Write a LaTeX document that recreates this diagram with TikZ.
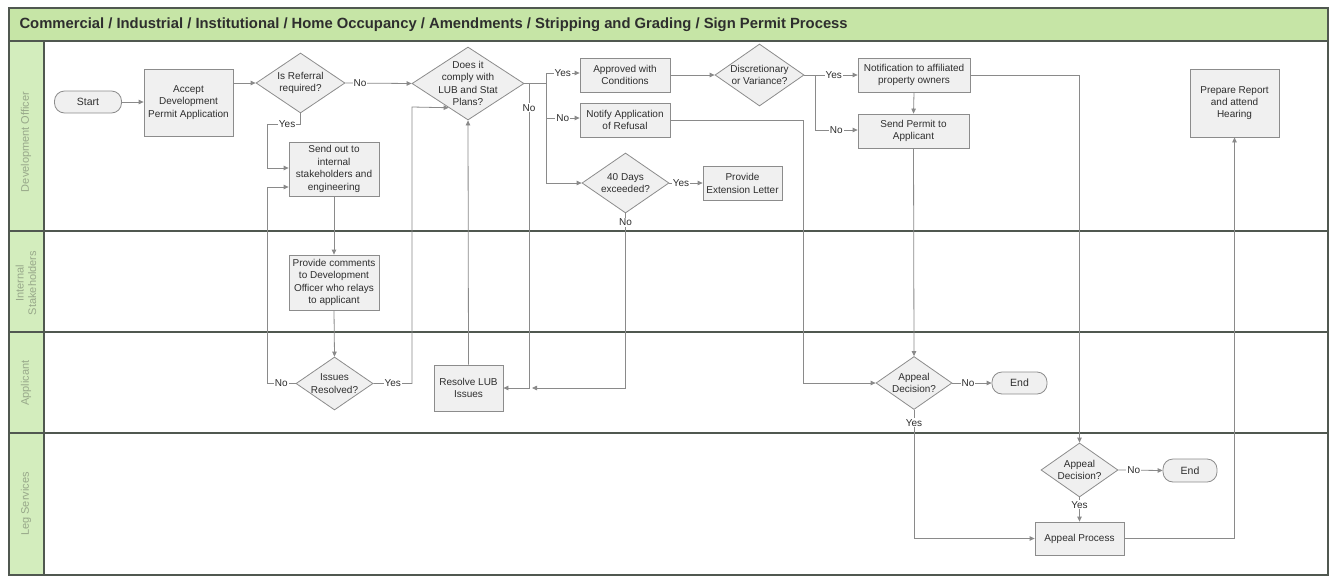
\documentclass[tikz,border=0pt]{standalone}
\usepackage{fontspec}
\setmainfont{Liberation Sans}
\usetikzlibrary{shapes.geometric,arrows.meta,calc}

\definecolor{titlegreen}{HTML}{C6E5A6}
\definecolor{lanegreen}{HTML}{D3EDBD}
\definecolor{framegray}{HTML}{505850}
\definecolor{linegray}{HTML}{8A8A8A}
\definecolor{boxfill}{HTML}{F0F0F0}
\definecolor{boxdraw}{HTML}{8C8C8C}
\definecolor{lanetext}{HTML}{98A88A}
\definecolor{inktext}{HTML}{2E2E2E}

\tikzset{
  stepbox/.style={draw=boxdraw, fill=boxfill, line width=0.8pt, align=center,
    font=\fontsize{10}{12.4}\selectfont, inner sep=1pt, text=inktext},
  decision/.style={diamond, draw=boxdraw, fill=boxfill, line width=0.8pt, inner sep=0pt},
  dtext/.style={align=center, font=\fontsize{10}{12.4}\selectfont, inner sep=0pt, text=inktext},
  terminal/.style={draw=boxdraw, fill=boxfill, line width=0.8pt, rounded corners=10pt,
    font=\fontsize{10.5}{12}\selectfont, text=inktext, inner sep=0pt},
  plain/.style={draw=linegray, line width=0.8pt},
  flow/.style={plain, -{Triangle[length=5pt,width=4.5pt]}},
  elabel/.style={fill=white, inner sep=1pt, font=\fontsize{10}{11}\selectfont, text=inktext},
  lanelabel/.style={rotate=90, align=center, font=\fontsize{11}{12.5}\selectfont, text=lanetext},
  frame/.style={draw=framegray, line width=1.2pt}
}

\begin{document}
\begin{tikzpicture}[x=1pt,y=-1pt]
\useasboundingbox (0,0) rectangle (1330,576);

% swimlane frame
\fill[white] (9,8) rectangle (1328,575);
\fill[titlegreen] (9,8) rectangle (1328,41);
\fill[lanegreen] (9,41) rectangle (44,575);
\draw[frame] (9,8) rectangle (1328,575);
\draw[frame] (9,41) -- (1328,41);
\draw[frame] (9,231) -- (1328,231);
\draw[frame] (9,332) -- (1328,332);
\draw[frame] (9,433) -- (1328,433);
\draw[frame] (44,41) -- (44,575);

\node[anchor=west, font=\bfseries\fontsize{14.8}{16}\selectfont, text=inktext] (title) at (16,24.5)
  {Commercial / Industrial / Institutional / Home Occupancy / Amendments / Stripping and Grading / Sign Permit Process};

\node[lanelabel] (lane1) at (26,142) {Development Officer};
\node[lanelabel] (lane2) at (26,283) {Internal\\Stakeholders};
\node[lanelabel] (lane3) at (26,383) {Applicant};
\node[lanelabel] (lane4) at (26,504) {Leg Services};

% Development Officer lane
\node[terminal, minimum width=67pt, minimum height=22pt] (start) at (88,102) {Start};
\node[stepbox, minimum width=89pt, minimum height=67pt] (accept) at (188.5,102.5)
  {Accept\\Development\\Permit Application};
\node[decision, minimum width=89pt, minimum height=60pt] (referral) at (300.5,83) {};
\node[dtext] (referral-t) at (referral) {Is Referral\\required?};
\node[stepbox, minimum width=90pt, minimum height=54pt] (sendout) at (334,169)
  {Send out to\\internal\\stakeholders and\\engineering};
\node[decision, minimum width=112pt, minimum height=73pt] (comply) at (468,83.5) {};
\node[dtext] (comply-t) at (comply) {Does it\\comply with\\LUB and Stat\\Plans?};
\node[stepbox, minimum width=90pt, minimum height=34pt] (approved) at (625,75) {Approved with\\Conditions};
\node[stepbox, minimum width=90pt, minimum height=34pt] (notify) at (625,120) {Notify Application\\of Refusal};
\node[decision, minimum width=87pt, minimum height=60pt] (days) at (625.5,183) {};
\node[dtext] (days-t) at (days) {40 Days\\exceeded?};
\node[stepbox, minimum width=79pt, minimum height=34pt] (ext) at (742.5,183.5) {Provide\\Extension Letter};
\node[decision, minimum width=89pt, minimum height=62pt] (disc) at (759.5,75) {};
\node[dtext] (disc-t) at (disc) {Discretionary\\or Variance?};
\node[stepbox, minimum width=112pt, minimum height=34pt] (notif) at (914,75) {Notification to affiliated\\property owners};
\node[stepbox, minimum width=111pt, minimum height=34pt] (sendp) at (913.5,131) {Send Permit to\\Applicant};
\node[stepbox, minimum width=89pt, minimum height=68pt] (report) at (1234.5,103) {Prepare Report\\and attend\\Hearing};

% Internal Stakeholders lane
\node[stepbox, minimum width=90pt, minimum height=55pt] (provide) at (334,282.5)
  {Provide comments\\to Development\\Officer who relays\\to applicant};

% Applicant lane
\node[decision, minimum width=77pt, minimum height=53pt] (issues) at (334.5,383.5) {};
\node[dtext] (issues-t) at (issues) {Issues\\Resolved?};
\node[stepbox, minimum width=69pt, minimum height=46pt] (resolve) at (468.5,388) {Resolve LUB\\Issues};
\node[decision, minimum width=76pt, minimum height=53pt] (appeal1) at (914,383) {};
\node[dtext] (appeal1-t) at (appeal1) {Appeal\\Decision?};
\node[terminal, minimum width=55pt, minimum height=22pt] (end1) at (1019.5,383) {End};

% Leg Services lane
\node[decision, minimum width=77pt, minimum height=54pt] (appeal2) at (1079.5,470) {};
\node[dtext] (appeal2-t) at (appeal2) {Appeal\\Decision?};
\node[terminal, minimum width=54pt, minimum height=23pt] (end2) at (1190,470.5) {End};
\node[stepbox, minimum width=89pt, minimum height=33pt] (process) at (1079.5,538.5) {Appeal Process};

% connectors
\draw[flow] (start.east) -- (accept.west |- start);
\draw[flow] (accept.east |- referral) -- (referral.west);
\draw[flow] (referral.east) -- node[elabel, pos=0.22]{No} (comply.west);
\draw[flow] (referral.south) -- (300.5,124) -- node[elabel, pos=0.4]{Yes} (267,124)
  -- (267,168) -- (sendout.west |- 267,168);
\draw[flow] (sendout.south) -- (provide.north);
\draw[flow] (provide.south) -- (issues.north);
\draw[flow] (issues.west) -- node[elabel]{No} (267,383.5) -- (267,187) -- (sendout.west |- 267,187);
\draw[flow] (issues.east) -- node[elabel]{Yes} (412,383.5) -- (412,107)
  -- ($(comply.west)!0.657!(comply.south)$);
\draw[flow] (resolve.north) -- (comply.south);

\draw[plain] (comply.east) -- (546,83.5);
\draw[flow] (comply.east) -- (529,83.5) -- node[elabel, pos=0.08]{No} (529,388) -- (resolve.east);
\draw[flow] (546,83.5) -- (546,73) -- node[elabel]{Yes} (approved.west |- 546,73);
\draw[flow] (546,83.5) -- (546,118) -- node[elabel]{No} (notify.west |- 546,118);
\draw[flow] (546,118) -- (546,183) -- (days.west);
\draw[flow] (days.east) -- node[elabel, pos=0.35]{Yes} (ext.west |- days);
\draw[flow] (days.south) -- node[elabel, pos=0.05]{No} (625.5,388) -- (532,388);

\draw[flow] (approved.east) -- (disc.west);
\draw[flow] (disc.east) -- node[elabel, pos=0.55]{Yes} (notif.west);
\draw[flow] (815,75) -- (815,130) -- node[elabel]{No} (sendp.west |- 815,130);
\draw[flow] (notif.south) -- (sendp.north);
\draw[flow] (notif.east) -- (1079.5,75) -- (appeal2.north);
\draw[flow] (notify.east) -- (803,120) -- (803,383) -- (appeal1.west);
\draw[flow] (sendp.south) -- (appeal1.north);
\draw[flow] (appeal1.east) -- node[elabel, pos=0.4]{No} (end1.west);
\draw[flow] (appeal1.south) -- node[elabel, pos=0.1]{Yes} (914,538.5) -- (process.west);
\draw[flow] (appeal2.east) -- node[elabel, pos=0.35]{No} (end2.west);
\draw[flow] (appeal2.south) -- node[elabel, pos=0.3]{Yes} (process.north);
\draw[flow] (process.east) -- (1234.5,538.5) -- (report.south);

\end{tikzpicture}
\end{document}
